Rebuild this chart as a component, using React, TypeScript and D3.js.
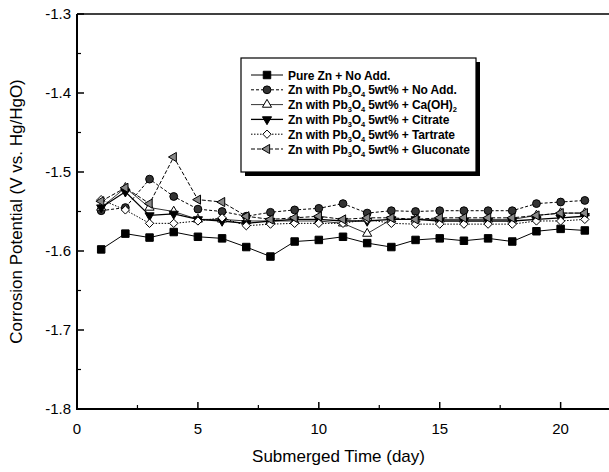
import * as d3 from 'd3';

const days = d3.range(1, 22);

const pureZn = [-1.598, -1.578, -1.583, -1.576, -1.582, -1.584, -1.595, -1.607, -1.588, -1.586, -1.582, -1.59, -1.595, -1.586, -1.584, -1.587, -1.584, -1.588, -1.575, -1.572, -1.574];
const pbNoAdd = [-1.549, -1.545, -1.509, -1.531, -1.547, -1.55, -1.556, -1.551, -1.548, -1.546, -1.54, -1.552, -1.549, -1.55, -1.549, -1.549, -1.549, -1.549, -1.54, -1.538, -1.536];
const pbCaOH = [-1.545, -1.52, -1.545, -1.55, -1.56, -1.56, -1.562, -1.562, -1.562, -1.562, -1.565, -1.578, -1.56, -1.56, -1.56, -1.56, -1.56, -1.56, -1.555, -1.552, -1.552];
const pbCitrate = [-1.545, -1.525, -1.555, -1.553, -1.56, -1.562, -1.565, -1.562, -1.56, -1.56, -1.562, -1.562, -1.56, -1.56, -1.562, -1.562, -1.562, -1.562, -1.56, -1.558, -1.556];
const pbTartrate = [-1.535, -1.548, -1.565, -1.565, -1.562, -1.558, -1.568, -1.566, -1.565, -1.565, -1.565, -1.56, -1.565, -1.566, -1.566, -1.566, -1.566, -1.566, -1.562, -1.562, -1.56];
const pbGluconate = [-1.537, -1.52, -1.54, -1.481, -1.535, -1.538, -1.556, -1.56, -1.558, -1.556, -1.56, -1.558, -1.558, -1.56, -1.558, -1.558, -1.558, -1.558, -1.555, -1.552, -1.552];

const xTicks = [0, 5, 10, 15, 20];
const yTicks = [-1.3, -1.4, -1.5, -1.6, -1.7, -1.8];

type Series = {
  values: number[];
  label: string; // suffix after "Zn with Pb3O4 5wt% + "
  pb: boolean;
  symbol: d3.SymbolType;
  rotate: number;
  size: number;
  fill: string;
  dash: string;
  lw: number;
};

const series: Series[] = [
  { values: pureZn, label: 'Pure Zn + No Add.', pb: false, symbol: d3.symbolSquare, rotate: 0, size: 56, fill: '#000', dash: '', lw: 1 },
  { values: pbNoAdd, label: 'No Add.', pb: true, symbol: d3.symbolCircle, rotate: 0, size: 48, fill: '#333', dash: '3,2', lw: 1 },
  { values: pbCaOH, label: 'Ca(OH)', pb: true, symbol: d3.symbolTriangle, rotate: 0, size: 36, fill: '#fff', dash: '', lw: 0.8 },
  { values: pbCitrate, label: 'Citrate', pb: true, symbol: d3.symbolTriangle, rotate: 180, size: 36, fill: '#000', dash: '', lw: 1.3 },
  { values: pbTartrate, label: 'Tartrate', pb: true, symbol: d3.symbolDiamond2, rotate: 0, size: 44, fill: '#fff', dash: '1.5,1.5', lw: 1 },
  { values: pbGluconate, label: 'Gluconate', pb: true, symbol: d3.symbolTriangle, rotate: -90, size: 36, fill: '#888', dash: '4,2', lw: 1 },
];

const W = 609;
const H = 472;
const m = { left: 77, right: 609, top: 14, bottom: 409 };

export default function App() {
  const x = d3.scaleLinear().domain([0, 22]).range([m.left, m.right]);
  const y = d3.scaleLinear().domain([-1.3, -1.8]).range([m.top, m.bottom]);
  const line = d3.line<number>().x((_, i) => x(days[i])).y(d => y(d));

  const xMinor = d3.range(2.5, 22, 5);
  const yMinor = d3.range(0, 5).map(i => -1.35 - i * 0.1);

  const font = 'Arial, "Liberation Sans", Helvetica, sans-serif';
  const legX = 241;
  const legY = 58;
  const legW = 235;
  const legH = 114;
  const rowY = (i: number) => 75 + i * 14.8;

  const marker = (s: Series, cx: number, cy: number, key: string | number) => (
    <path
      key={key}
      d={d3.symbol().type(s.symbol).size(s.size)() as string}
      transform={`translate(${cx},${cy}) rotate(${s.rotate})`}
      fill={s.fill}
      stroke="#000"
      strokeWidth={1}
    />
  );

  return (
    <svg width={W} height={H} style={{ position: 'absolute', left: 0, top: 0, background: '#fff' }} fontFamily={font}>
      {/* frame */}
      <line x1={m.left} x2={m.right} y1={m.top} y2={m.top} stroke="#000" strokeWidth={1.5} />
      <line x1={m.left} x2={m.left} y1={m.top} y2={m.bottom + 1} stroke="#000" strokeWidth={2} />
      <line x1={m.left - 1} x2={m.right} y1={m.bottom} y2={m.bottom} stroke="#000" strokeWidth={2} />

      {/* x ticks */}
      {xTicks.map(t => (
        <g key={`xt${t}`}>
          <line x1={x(t)} x2={x(t)} y1={m.bottom} y2={m.bottom - 7} stroke="#000" strokeWidth={1.5} />
          <text x={x(t)} y={m.bottom + 25} textAnchor="middle" fontSize={15}>{t}</text>
        </g>
      ))}
      {xMinor.map(t => (
        <line key={`xm${t}`} x1={x(t)} x2={x(t)} y1={m.bottom} y2={m.bottom - 4} stroke="#000" strokeWidth={1.2} />
      ))}

      {/* y ticks */}
      {yTicks.map(t => (
        <g key={`yt${t}`}>
          <line x1={m.left} x2={m.left + 7} y1={y(t)} y2={y(t)} stroke="#000" strokeWidth={1.5} />
          <text x={m.left - 6} y={y(t) + 5} textAnchor="end" fontSize={15}>{t.toFixed(1)}</text>
        </g>
      ))}
      {yMinor.map(t => (
        <line key={`ym${t}`} x1={m.left} x2={m.left + 4} y1={y(t)} y2={y(t)} stroke="#000" strokeWidth={1.2} />
      ))}

      {/* axis titles */}
      <text x={(m.left + 600) / 2} y={462} textAnchor="middle" fontSize={17}>Submerged Time (day)</text>
      <text transform={`translate(22,${(m.top + m.bottom) / 2}) rotate(-90)`} textAnchor="middle" fontSize={17}>
        Corrosion Potential (V vs. Hg/HgO)
      </text>

      {/* series lines */}
      {series.map((s, i) => (
        <path key={`l${i}`} d={line(s.values) as string} fill="none" stroke="#000" strokeWidth={s.lw} strokeDasharray={s.dash} />
      ))}
      {/* markers */}
      {series.map((s, i) => (
        <g key={`m${i}`}>{s.values.map((v, j) => marker(s, x(days[j]), y(v), j))}</g>
      ))}

      {/* legend */}
      <rect x={legX + 4} y={legY + 4} width={legW} height={legH} fill="#000" />
      <rect x={legX} y={legY} width={legW} height={legH} fill="#fff" stroke="#000" strokeWidth={1.2} />
      {series.map((s, i) => (
        <g key={`lg${i}`}>
          <line x1={251} x2={283} y1={rowY(i)} y2={rowY(i)} stroke="#000" strokeWidth={s.lw} strokeDasharray={s.dash} />
          {marker(s, 267, rowY(i), 'mk')}
          <text x={288} y={rowY(i) + 4.5} fontSize={12} fontWeight="bold" letterSpacing={-0.1}>
            {s.pb ? (
              <>
                Zn with Pb<tspan fontSize={7.5} dy={3}>3</tspan>
                <tspan dy={-3}>O</tspan>
                <tspan fontSize={7.5} dy={3}>4</tspan>
                <tspan dy={-3}> 5wt% + {s.label}</tspan>
                {s.label === 'Ca(OH)' ? <tspan fontSize={7.5} dy={3}>2</tspan> : null}
              </>
            ) : (
              s.label
            )}
          </text>
        </g>
      ))}
    </svg>
  );
}
